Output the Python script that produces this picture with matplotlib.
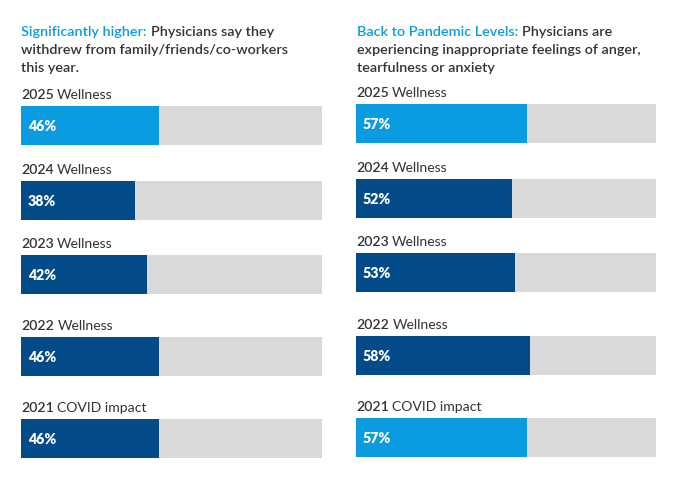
import matplotlib.pyplot as plt

# data
rows = ["2025", "2024", "2023", "2022", "2021"]
row_names = ["Wellness", "Wellness", "Wellness", "Wellness", "COVID impact"]
left_values = [46, 38, 42, 46, 46]
right_values = [57, 52, 53, 58, 57]
left_highlight = [True, False, False, False, False]
right_highlight = [True, False, False, False, True]

left_title = ["Significantly higher:", "Physicians say they",
              "withdrew from family/friends/co-workers", "this year."]
right_title = ["Back to Pandemic Levels:", "Physicians are",
               "experiencing inappropriate feelings of anger,", "tearfulness or anxiety"]

LIGHT = "#0a9be0"
DARK = "#024a88"
GRAY = "#d9d9d9"
TEXT = "#333333"

plt.rcParams['font.family'] = ['Lato', 'DejaVu Sans']

W, H = 680, 483
fig = plt.figure(figsize=(W / 100, H / 100), dpi=100)
fig.patch.set_facecolor("white")

# layout in pixels (top of each bar)
left_bar_tops = [106, 181, 255, 337, 419]
right_bar_tops = [104, 179, 253, 336, 418]
bar_h = 39
TITLE_FS = 10.4
LABEL_FS = 10.1


def px(x, y):
    return x / W, 1 - y / H


ax_bg = fig.add_axes([0, 0, 1, 1])
ax_bg.axis("off")


def title(x, y0, parts):
    t = fig.text(*px(x, y0), parts[0], color=LIGHT, fontsize=TITLE_FS,
                 fontweight="semibold", va="baseline")
    ax_bg.annotate(parts[1], xy=(1, 0), xycoords=t, xytext=(3, 0),
                   textcoords="offset points", va="bottom", ha="left",
                   color=TEXT, fontsize=TITLE_FS, fontweight="semibold",
                   annotation_clip=False)
    fig.text(*px(x, y0 + 18), parts[2], color=TEXT, fontsize=TITLE_FS,
             fontweight="semibold", va="baseline")
    fig.text(*px(x, y0 + 36), parts[3], color=TEXT, fontsize=TITLE_FS,
             fontweight="semibold", va="baseline")


def panel(x0, width, tops, values, highlight, label_dy):
    for top, yr, name, v, hl in zip(tops, rows, row_names, values, highlight):
        l, b = px(x0, top + bar_h)
        ax = fig.add_axes([l, b, width / W, bar_h / H])
        ax.barh(0, 100, height=1, color=GRAY)
        ax.barh(0, v, height=1, color=LIGHT if hl else DARK)
        ax.set_xlim(0, 100)
        ax.set_ylim(-0.5, 0.5)
        ax.axis("off")
        ax.text(2.3, -0.02, f"{v}%", color="white", fontsize=10.2,
                fontweight="heavy", va="center", ha="left")
        t = fig.text(*px(x0, top - label_dy), yr, color=TEXT, fontsize=LABEL_FS,
                     fontweight="semibold", va="baseline")
        ax.annotate(name, xy=(1, 0), xycoords=t, xytext=(2.5, 0),
                    textcoords="offset points", va="bottom", ha="left",
                    color=TEXT, fontsize=LABEL_FS, annotation_clip=False)


title(21, 36, left_title)
title(357, 36, right_title)

panel(21, 301, left_bar_tops, left_values, left_highlight, 7)
panel(356, 300, right_bar_tops, right_values, right_highlight, 7)

fig.savefig("out.png", dpi=100, facecolor="white")
